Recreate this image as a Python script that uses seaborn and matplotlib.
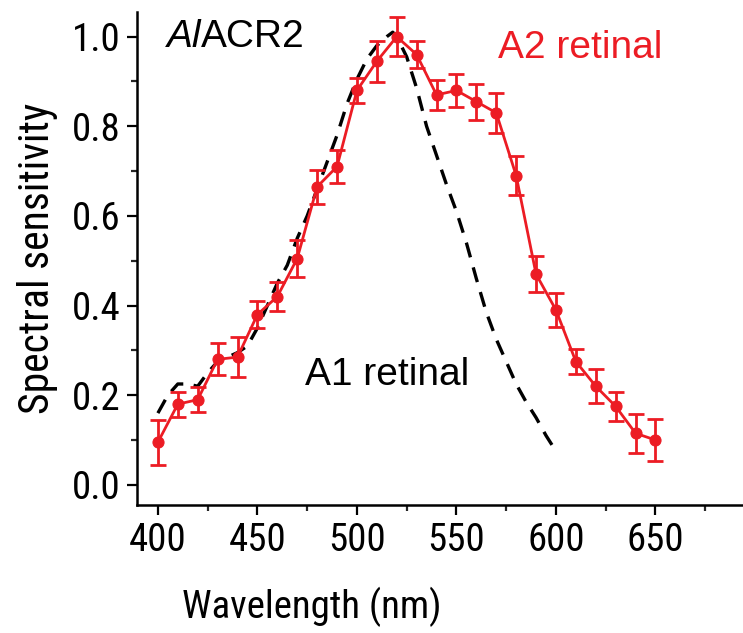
import matplotlib
matplotlib.use("Agg")
import matplotlib.pyplot as plt
import seaborn as sns
import pandas as pd

# A2 retinal measurements (red points with error bars)
wavelength = [400, 410, 420, 430, 440, 450, 460, 470, 480, 490, 500, 510, 520,
              530, 540, 550, 560, 570, 580, 590, 600, 610, 620, 630, 640, 650]
a2_sens = [0.095, 0.18, 0.19, 0.28, 0.285, 0.38, 0.42, 0.505, 0.665, 0.71, 0.88, 0.945, 1.0,
           0.96, 0.87, 0.88, 0.855, 0.83, 0.69, 0.47, 0.39, 0.275, 0.22, 0.175, 0.115, 0.10]
a2_err = [0.05, 0.028, 0.028, 0.036, 0.045, 0.03, 0.033, 0.042, 0.038, 0.036, 0.028, 0.046, 0.044,
          0.031, 0.033, 0.037, 0.04, 0.045, 0.043, 0.04, 0.037, 0.027, 0.038, 0.032, 0.043, 0.046]

# A1 retinal reference spectrum (dashed curve)
a1_wl = [400, 405, 410, 415, 420, 425, 430, 435, 440, 445, 450, 455, 460, 465, 470, 475,
         480, 485, 490, 495, 500, 505, 510, 515, 518, 520, 525, 530, 535, 540, 545, 550,
         555, 560, 565, 570, 575, 580, 585, 590, 595, 600]
a1_sens = [0.16, 0.20, 0.225, 0.225, 0.22, 0.25, 0.275, 0.285, 0.295, 0.31, 0.35, 0.40, 0.45,
           0.49, 0.55, 0.60, 0.66, 0.72, 0.78, 0.85, 0.905, 0.95, 0.98, 1.0, 1.01, 1.0, 0.955,
           0.885, 0.8, 0.735, 0.67, 0.61, 0.54, 0.46, 0.385, 0.325, 0.275, 0.225, 0.185,
           0.15, 0.11, 0.075]

a2 = pd.DataFrame({"wl": wavelength, "s": a2_sens, "err": a2_err})
a1 = pd.DataFrame({"wl": a1_wl, "s": a1_sens})

sns.set_style("ticks")
plt.rcParams["font.family"] = ["Liberation Sans Narrow", "Roboto Condensed", "Open Sans Condensed",
                               "Liberation Sans", "DejaVu Sans"]
plt.rcParams["lines.scale_dashes"] = False

red = "#ec1c24"

fig = plt.figure(figsize=(7.43, 6.33), dpi=100)
ax = fig.add_axes([137 / 743, 128 / 633, 618 / 743, 493 / 633])

sns.lineplot(data=a1, x="wl", y="s", ax=ax, color="black", lw=2.4, zorder=2)
ax.lines[-1].set_dashes((11, 7.5))

sns.lineplot(data=a2, x="wl", y="s", ax=ax, color=red, lw=2.0, marker="o",
             markersize=8, markeredgecolor=red, zorder=3)
ax.errorbar(a2["wl"], a2["s"], yerr=a2["err"], fmt="none", ecolor=red,
            elinewidth=2.0, capsize=5.5, capthick=2.0, zorder=3)

ax.set_xlim(389.5, 700)
ax.set_ylim(-0.045, 1.055)
ax.set_xticks([400, 450, 500, 550, 600, 650])
ax.set_xticks([425, 475, 525, 575, 625, 675], minor=True)
ax.set_yticks([0.0, 0.2, 0.4, 0.6, 0.8, 1.0])
ax.set_yticks([0.1, 0.3, 0.5, 0.7, 0.9], minor=True)
ax.set_yticklabels(["0.0", "0.2", "0.4", "0.6", "0.8", "1.0"])

ax.tick_params(which="major", length=7, width=1.6, labelsize=28, colors="black", pad=5)
ax.tick_params(which="minor", length=4, width=1.6)
for s in ["left", "bottom"]:
    ax.spines[s].set_linewidth(1.8)
    ax.spines[s].set_color("black")
sns.despine(ax=ax)

ax.set_xlabel("Wavelength (nm)", fontsize=28, color="black")
ax.xaxis.set_label_coords((312 - 137) / 618, -0.165)
ax.set_ylabel("Spectral sensitivity", fontsize=30, labelpad=10, color="black")

ann = ["Liberation Sans", "DejaVu Sans"]
ax.text(612, 0.975, "A2 retinal", color=red, fontsize=28, family=ann,
        ha="center", va="center")
ax.text(515, 0.245, "A1 retinal", color="black", fontsize=28, family=ann,
        ha="center", va="center")
t1 = ax.text(404.5, 1.0, "Al", color="black", fontsize=28, family=ann,
             style="italic", ha="left", va="center")
ax.annotate("ACR2", xy=(1, 0.5), xycoords=t1, color="black", fontsize=28,
            family=ann, ha="left", va="center")

fig.savefig("out.png", dpi=100)
